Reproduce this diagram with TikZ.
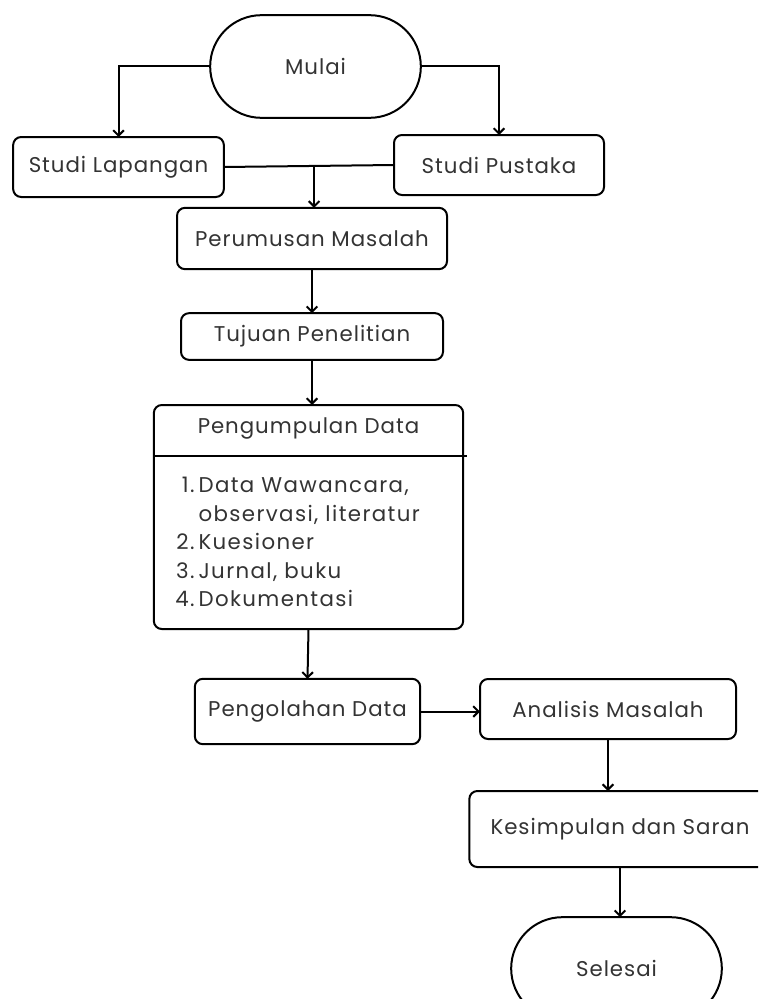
\documentclass[tikz,border=0pt]{standalone}
\usepackage{fontspec}
\setmainfont{Poppins}[LetterSpace=4.5]
\usepackage{tikz}
\usetikzlibrary{positioning, arrows.meta, calc, shapes.misc}

\begin{document}
\begin{tikzpicture}[x=0.75pt,y=0.75pt,yscale=-1,xscale=1,
	box/.style={draw, line width=1.5pt, rounded corners=6pt, inner sep=0pt, outer sep=0pt, align=center, text=black!80, font=\fontsize{16}{21.4}\selectfont},
	terminal/.style={draw, line width=1.5pt, rounded rectangle, inner sep=0pt, outer sep=0pt, text=black!80, font=\fontsize{16}{21.4}\selectfont},
	arr/.style={line width=1.5pt, -{Straight Barb[length=4pt,width=8pt,line width=1.5pt]}},
	link/.style={line width=1.5pt}]
	\useasboundingbox (0,0) rectangle (758,999);
	\clip (0,0) rectangle (758,999);

	% Terminal
	\node[terminal, minimum width=158pt, minimum height=77pt] (mulai) at (315.5,66.5) {Mulai};
	% Studi
	\node[box, minimum width=158pt, minimum height=45pt] (lapangan) at (118.5,167) {Studi Lapangan};
	\node[box, minimum width=157.5pt, minimum height=45pt] (pustaka) at (499,165) {Studi Pustaka};
	% Perumusan dan tujuan
	\node[box, minimum width=202.5pt, minimum height=46pt] (perumusan) at (312,238.5) {Perumusan Masalah};
	\node[box, minimum width=196.5pt, minimum height=35pt] (tujuan) at (312,336.5) {Tujuan Penelitian};
	% Pengumpulan data
	\node[box, minimum width=232pt, minimum height=168pt] (kumpul) at (308.5,517) {};
	\node[text=black!80, font=\fontsize{16}{21.4}\selectfont, inner sep=0pt] (kumpulJudul) at (308.5,428) {Pengumpulan Data};
	\draw[link] (154,456) -- (467,456);
	\node[anchor=west, inner sep=0pt, text=black!80, font=\fontsize{16}{21.4}\selectfont\addfontfeatures{LetterSpace=6.5}] (kumpulIsi) at (175,544) {%
		\begin{tabular}{@{}r@{\hspace{3pt}}l@{}}
			1. & Data Wawancara,\\
			   & observasi, literatur\\
			2. & Kuesioner\\
			3. & Jurnal, buku\\
			4. & Dokumentasi
		\end{tabular}};
	% Pengolahan dan analisis
	\node[box, minimum width=169pt, minimum height=49pt] (olah) at (307.5,711.5) {Pengolahan Data};
	\node[box, minimum width=192pt, minimum height=45pt] (analisis) at (608,709) {Analisis Masalah};
	\node[box, minimum width=226pt, minimum height=57pt] (simpul) at (620,829) {Kesimpulan dan Saran};
	\node[terminal, minimum width=158pt, minimum height=77pt] (selesai) at (616.5,968.5) {Selesai};

	% Connectors
	\draw[arr] (mulai.west) -| (lapangan.north);
	\draw[arr] (mulai.east) -| (pustaka.north);
	\draw[link] (lapangan.east) -- (pustaka.west);
	\coordinate (gabung) at ($(lapangan.east)!0.53!(pustaka.west)$);
	\draw[arr] (gabung) -- (gabung |- perumusan.north);
	\draw[arr] (perumusan.south) -- (tujuan.north);
	\draw[arr] (tujuan.south) -- (tujuan.south |- kumpul.north);
	\draw[arr] (kumpul.south) -- (olah.north);
	\draw[arr] (olah.east) -- (olah.east -| analisis.west);
	\draw[arr] (analisis.south) -- (analisis.south |- simpul.north);
	\draw[arr] (simpul.south) -- (simpul.south |- selesai.north);
\end{tikzpicture}
\end{document}
